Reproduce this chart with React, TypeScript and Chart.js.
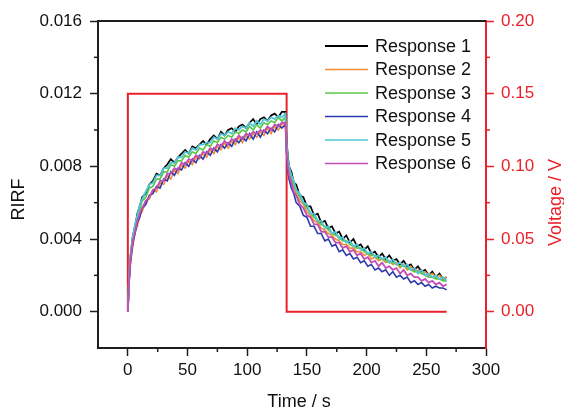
import React, { useEffect, useRef } from "react";
import { Chart, registerables } from "chart.js";

Chart.register(...registerables);

// Time axis (s) shared by all six responses
const TIME = [
  0, 1, 2, 3, 4, 6, 8, 10, 12, 15, 18, 21, 24, 27, 30, 33, 36, 39, 42, 45, 48, 51, 54, 57, 60,
  63, 66, 69, 72, 75, 78, 81, 84, 87, 90, 93, 96, 99, 102, 105, 108, 111, 114, 117, 120, 123,
  126, 129, 132,
  133, 134, 135, 137, 139, 141, 144, 147, 150, 153, 156, 159, 162, 165, 168, 171, 174, 177,
  180, 183, 186, 189, 192, 195, 198, 201, 204, 207, 210, 213, 216, 219, 222, 225, 228, 231,
  234, 237, 240, 243, 246, 249, 252, 255, 258, 261, 264, 267,
];

const RESPONSE_1 = [
  0, 0.0017, 0.0029, 0.0035, 0.0041, 0.0047, 0.0054, 0.0058, 0.0063, 0.0065, 0.0070, 0.0072,
  0.0076, 0.0075, 0.0079, 0.0081, 0.0084, 0.0082, 0.0085, 0.0087, 0.0089, 0.0087, 0.0091,
  0.0090, 0.0092, 0.0094, 0.0092, 0.0095, 0.0097, 0.0095, 0.0099, 0.0097, 0.0100, 0.0101,
  0.0099, 0.0102, 0.0103, 0.0101, 0.0104, 0.0106, 0.0103, 0.0106, 0.0107, 0.0105, 0.0108,
  0.0109, 0.0107, 0.0110, 0.0110,
  0.0094, 0.0086, 0.0080, 0.0077, 0.0071, 0.0070, 0.0064, 0.0063, 0.0058, 0.0058, 0.0053,
  0.0054, 0.0049, 0.0050, 0.0046, 0.0047, 0.0043, 0.0044, 0.0040, 0.0042, 0.0038, 0.0040,
  0.0036, 0.0037, 0.0034, 0.0036, 0.0032, 0.0033, 0.0030, 0.0032, 0.0029, 0.0031, 0.0028,
  0.0029, 0.0026, 0.0028, 0.0025, 0.0026, 0.0023, 0.0025, 0.0022, 0.0023, 0.0020, 0.0022,
  0.0019, 0.0021, 0.0018, 0.0019,
];

const RESPONSE_2 = [
  0, 0.0015, 0.0024, 0.0032, 0.0035, 0.0044, 0.0047, 0.0053, 0.0055, 0.0061, 0.0062, 0.0067,
  0.0066, 0.0071, 0.0070, 0.0075, 0.0073, 0.0078, 0.0076, 0.0081, 0.0079, 0.0083, 0.0081,
  0.0085, 0.0084, 0.0087, 0.0085, 0.0089, 0.0087, 0.0091, 0.0089, 0.0093, 0.0090, 0.0094,
  0.0092, 0.0096, 0.0093, 0.0097, 0.0095, 0.0098, 0.0096, 0.0099, 0.0097, 0.0101, 0.0098,
  0.0102, 0.0100, 0.0103, 0.0104,
  0.0089, 0.0081, 0.0077, 0.0072, 0.0069, 0.0065, 0.0061, 0.0059, 0.0055, 0.0053, 0.0050,
  0.0049, 0.0046, 0.0045, 0.0043, 0.0042, 0.0040, 0.0039, 0.0037, 0.0037, 0.0035, 0.0035,
  0.0033, 0.0033, 0.0031, 0.0032, 0.0029, 0.0030, 0.0028, 0.0029, 0.0027, 0.0028, 0.0026,
  0.0027, 0.0024, 0.0026, 0.0023, 0.0025, 0.0022, 0.0023, 0.0021, 0.0022, 0.0020, 0.0021,
  0.0019, 0.0020, 0.0018, 0.0019,
];

const RESPONSE_3 = [
  0, 0.0018, 0.0030, 0.0034, 0.0041, 0.0046, 0.0053, 0.0056, 0.0061, 0.0063, 0.0068, 0.0069,
  0.0073, 0.0073, 0.0077, 0.0077, 0.0081, 0.0080, 0.0083, 0.0083, 0.0086, 0.0085, 0.0088,
  0.0087, 0.0090, 0.0089, 0.0092, 0.0091, 0.0094, 0.0093, 0.0096, 0.0095, 0.0097, 0.0096,
  0.0099, 0.0098, 0.0100, 0.0099, 0.0102, 0.0100, 0.0103, 0.0101, 0.0104, 0.0103, 0.0105,
  0.0104, 0.0107, 0.0105, 0.0107,
  0.0091, 0.0083, 0.0079, 0.0074, 0.0070, 0.0067, 0.0063, 0.0060, 0.0057, 0.0054, 0.0052,
  0.0050, 0.0048, 0.0047, 0.0045, 0.0043, 0.0042, 0.0041, 0.0039, 0.0039, 0.0037, 0.0036,
  0.0035, 0.0035, 0.0033, 0.0032, 0.0031, 0.0031, 0.0029, 0.0029, 0.0028, 0.0027, 0.0027,
  0.0026, 0.0025, 0.0025, 0.0024, 0.0023, 0.0022, 0.0022, 0.0021, 0.0020, 0.0019, 0.0019,
  0.0018, 0.0018, 0.0017, 0.0017,
];

const RESPONSE_4 = [
  0, 0.0016, 0.0026, 0.0031, 0.0037, 0.0043, 0.0049, 0.0052, 0.0057, 0.0059, 0.0064, 0.0065,
  0.0069, 0.0068, 0.0073, 0.0072, 0.0077, 0.0075, 0.0079, 0.0078, 0.0082, 0.0080, 0.0084,
  0.0082, 0.0086, 0.0084, 0.0088, 0.0086, 0.0090, 0.0088, 0.0092, 0.0090, 0.0093, 0.0091,
  0.0095, 0.0093, 0.0096, 0.0094, 0.0098, 0.0095, 0.0099, 0.0096, 0.0100, 0.0098, 0.0101,
  0.0099, 0.0103, 0.0101, 0.0103,
  0.0087, 0.0077, 0.0073, 0.0068, 0.0065, 0.0060, 0.0058, 0.0053, 0.0052, 0.0047, 0.0047,
  0.0043, 0.0043, 0.0039, 0.0040, 0.0036, 0.0037, 0.0033, 0.0034, 0.0031, 0.0032, 0.0029,
  0.0030, 0.0027, 0.0028, 0.0025, 0.0026, 0.0023, 0.0024, 0.0022, 0.0023, 0.0020, 0.0022,
  0.0019, 0.0020, 0.0018, 0.0019, 0.0016, 0.0017, 0.0015, 0.0016, 0.0014, 0.0015, 0.0013,
  0.0014, 0.0013, 0.0013, 0.0012,
];

const RESPONSE_5 = [
  0, 0.0019, 0.0030, 0.0036, 0.0040, 0.0048, 0.0053, 0.0059, 0.0062, 0.0066, 0.0070, 0.0071,
  0.0075, 0.0075, 0.0079, 0.0079, 0.0082, 0.0082, 0.0085, 0.0085, 0.0088, 0.0087, 0.0090,
  0.0089, 0.0092, 0.0092, 0.0093, 0.0093, 0.0096, 0.0095, 0.0098, 0.0097, 0.0099, 0.0098,
  0.0101, 0.0100, 0.0102, 0.0101, 0.0104, 0.0102, 0.0105, 0.0103, 0.0106, 0.0105, 0.0107,
  0.0106, 0.0108, 0.0107, 0.0109,
  0.0092, 0.0084, 0.0080, 0.0075, 0.0072, 0.0067, 0.0065, 0.0060, 0.0059, 0.0054, 0.0054,
  0.0050, 0.0050, 0.0046, 0.0047, 0.0043, 0.0044, 0.0040, 0.0041, 0.0038, 0.0039, 0.0036,
  0.0037, 0.0034, 0.0035, 0.0032, 0.0033, 0.0030, 0.0031, 0.0029, 0.0030, 0.0027, 0.0029,
  0.0026, 0.0027, 0.0025, 0.0026, 0.0023, 0.0024, 0.0021, 0.0023, 0.0020, 0.0021, 0.0019,
  0.0020, 0.0018, 0.0019, 0.0017,
];

const RESPONSE_6 = [
  0, 0.0017, 0.0027, 0.0033, 0.0038, 0.0044, 0.0050, 0.0054, 0.0057, 0.0061, 0.0063, 0.0067,
  0.0068, 0.0072, 0.0072, 0.0076, 0.0076, 0.0079, 0.0078, 0.0082, 0.0081, 0.0084, 0.0083,
  0.0086, 0.0085, 0.0088, 0.0087, 0.0090, 0.0089, 0.0092, 0.0091, 0.0094, 0.0092, 0.0095,
  0.0094, 0.0097, 0.0095, 0.0098, 0.0097, 0.0099, 0.0098, 0.0100, 0.0099, 0.0102, 0.0100,
  0.0103, 0.0102, 0.0104, 0.0104,
  0.0088, 0.0080, 0.0075, 0.0071, 0.0066, 0.0064, 0.0059, 0.0057, 0.0053, 0.0052, 0.0048,
  0.0048, 0.0044, 0.0044, 0.0041, 0.0041, 0.0038, 0.0038, 0.0035, 0.0036, 0.0033, 0.0034,
  0.0031, 0.0032, 0.0029, 0.0030, 0.0027, 0.0028, 0.0025, 0.0027, 0.0024, 0.0025, 0.0023,
  0.0024, 0.0021, 0.0023, 0.0020, 0.0021, 0.0019, 0.0019, 0.0017, 0.0018, 0.0016, 0.0017,
  0.0015, 0.0016, 0.0014, 0.0015,
];

// Applied voltage step (right axis)
const VOLTAGE_TIME = [0, 0, 133, 133, 267];
const VOLTAGE = [0, 0.15, 0.15, 0, 0];

const SERIES_LABELS = ["Response 1", "Response 2", "Response 3", "Response 4", "Response 5", "Response 6"];
const SERIES_VALUES = [RESPONSE_1, RESPONSE_2, RESPONSE_3, RESPONSE_4, RESPONSE_5, RESPONSE_6];
const SERIES_COLORS = ["#000000", "#f58c35", "#5cc84a", "#2c3bab", "#50c6da", "#c24db6"];
const SERIES_WIDTHS = [1.7, 1.6, 1.7, 1.6, 1.8, 1.8];

const X_TITLE = "Time / s";
const Y_TITLE = "RIRF";
const Y2_TITLE = "Voltage / V";

const RED = "#e8212a";
const AXIS = "#1e1e1e";
const FONT = "'Liberation Sans', Arial, Helvetica, sans-serif";

const isMult = (v: number, s: number) => Math.abs(v / s - Math.round(v / s)) < 1e-6;

const decorPlugin = {
  id: "decor",
  afterDraw(chart: any) {
    const { ctx, chartArea: a, scales } = chart;
    ctx.save();
    // top frame line
    ctx.strokeStyle = AXIS;
    ctx.lineWidth = 2;
    ctx.beginPath();
    ctx.moveTo(a.left - 1, a.top);
    ctx.lineTo(a.right, a.top);
    ctx.stroke();

    // minor ticks
    const minorLen = 4;
    const drawMinor = (scale: any, step: number, color: string, side: string) => {
      ctx.strokeStyle = color;
      ctx.lineWidth = 1.5;
      for (const t of scale.ticks) {
        const v = t.value;
        if (isMult(v, step)) continue;
        if (Math.abs(v - scale.min) < 1e-9 || Math.abs(v - scale.max) < 1e-9) continue;
        const p = scale.getPixelForValue(v);
        ctx.beginPath();
        if (side === "bottom") {
          ctx.moveTo(p, a.bottom);
          ctx.lineTo(p, a.bottom + minorLen);
        } else if (side === "left") {
          ctx.moveTo(a.left, p);
          ctx.lineTo(a.left - minorLen, p);
        } else {
          ctx.moveTo(a.right, p);
          ctx.lineTo(a.right + minorLen, p);
        }
        ctx.stroke();
      }
    };
    drawMinor(scales.x, 50, AXIS, "bottom");
    drawMinor(scales.y, 0.004, AXIS, "left");
    drawMinor(scales.y2, 0.05, RED, "right");

    // axis titles
    ctx.font = `18px ${FONT}`;
    ctx.textAlign = "center";
    ctx.textBaseline = "middle";
    ctx.fillStyle = "#111";
    ctx.fillText(X_TITLE, (a.left + a.right) / 2 + 7, a.bottom + 54);

    const midY = (a.top + a.bottom) / 2;
    ctx.save();
    ctx.translate(a.left - 79, midY + 15);
    ctx.rotate(-Math.PI / 2);
    ctx.fillText(Y_TITLE, 0, 0);
    ctx.restore();

    ctx.save();
    ctx.fillStyle = RED;
    ctx.translate(a.right + 70, midY + 18);
    ctx.rotate(-Math.PI / 2);
    ctx.fillText(Y2_TITLE, 0, 0);
    ctx.restore();

    // legend
    ctx.textAlign = "left";
    SERIES_LABELS.forEach((label, i) => {
      const y = a.top + 25 + i * 23.5;
      ctx.strokeStyle = SERIES_COLORS[i];
      ctx.lineWidth = i === 0 ? 2 : 1.5;
      ctx.beginPath();
      ctx.moveTo(a.left + 227, y);
      ctx.lineTo(a.left + 270, y);
      ctx.stroke();
      ctx.fillStyle = "#111";
      ctx.fillText(label, a.left + 277, y + 1);
    });
    ctx.restore();
  },
};

export default function App() {
  const ref = useRef<HTMLCanvasElement>(null);

  useEffect(() => {
    const canvas = ref.current;
    if (!canvas) return;

    const datasets: any[] = SERIES_VALUES.map((vals, i) => ({
      label: SERIES_LABELS[i],
      data: TIME.map((t, k) => ({ x: t, y: vals[k] })),
      borderColor: SERIES_COLORS[i],
      backgroundColor: SERIES_COLORS[i],
      borderWidth: SERIES_WIDTHS[i],
      pointRadius: 0,
      tension: 0,
      yAxisID: "y",
      order: 6 - i,
    }));
    datasets.push({
      label: "Voltage",
      data: VOLTAGE_TIME.map((t, k) => ({ x: t, y: VOLTAGE[k] })),
      borderColor: RED,
      backgroundColor: RED,
      borderWidth: 2,
      pointRadius: 0,
      tension: 0,
      yAxisID: "y2",
      order: 20,
    });

    const tickFont = { family: FONT, size: 17 };

    const chart = new Chart(canvas, {
      type: "line",
      data: { datasets },
      plugins: [decorPlugin],
      options: {
        animation: false,
        responsive: false,
        events: [],
        layout: { padding: { top: 21, left: 0, right: 0, bottom: 0 } },
        plugins: {
          legend: { display: false },
          tooltip: { enabled: false },
          title: { display: false },
        },
        scales: {
          x: {
            type: "linear",
            position: "bottom",
            min: -25,
            max: 300,
            afterFit: (s: any) => {
              s.height = 63;
            },
            border: { display: true, color: AXIS, width: 2 },
            grid: {
              drawOnChartArea: false,
              drawTicks: true,
              tickLength: 8,
              tickWidth: 1.5,
              tickColor: (c: any) => (c.tick && isMult(c.tick.value, 50) ? AXIS : "rgba(0,0,0,0)"),
            },
            ticks: {
              stepSize: 25,
              autoSkip: false,
              maxRotation: 0,
              padding: 4,
              color: "#111",
              font: tickFont,
              callback: (v: any) => (isMult(Number(v), 50) ? String(Math.round(Number(v))) : ""),
            },
          },
          y: {
            type: "linear",
            position: "left",
            min: -0.002,
            max: 0.016,
            afterFit: (s: any) => {
              s.width = 98;
            },
            border: { display: true, color: AXIS, width: 2 },
            grid: {
              drawOnChartArea: false,
              drawTicks: true,
              tickLength: 8,
              tickWidth: 1.5,
              tickColor: (c: any) => (c.tick && isMult(c.tick.value, 0.004) ? AXIS : "rgba(0,0,0,0)"),
            },
            ticks: {
              stepSize: 0.002,
              autoSkip: false,
              padding: 8,
              color: "#111",
              font: tickFont,
              callback: (v: any) => {
                const n = Number(v);
                if (!isMult(n, 0.004)) return "";
                return Math.abs(n) < 1e-9 ? "0.000" : n.toFixed(3);
              },
            },
          },
          y2: {
            type: "linear",
            position: "right",
            min: -0.025,
            max: 0.2,
            afterFit: (s: any) => {
              s.width = 78;
            },
            border: { display: true, color: RED, width: 2 },
            grid: {
              drawOnChartArea: false,
              drawTicks: true,
              tickLength: 8,
              tickWidth: 1.5,
              tickColor: (c: any) => (c.tick && isMult(c.tick.value, 0.05) ? RED : "rgba(0,0,0,0)"),
            },
            ticks: {
              stepSize: 0.025,
              autoSkip: false,
              padding: 7,
              color: RED,
              font: tickFont,
              callback: (v: any) => {
                const n = Number(v);
                if (!isMult(n, 0.05)) return "";
                return Math.abs(n) < 1e-9 ? "0.00" : n.toFixed(2);
              },
            },
          },
        },
      } as any,
    });

    return () => chart.destroy();
  }, []);

  return (
    <div style={{ position: "absolute", left: 0, top: 0, width: 564, height: 411, background: "#fff" }}>
      <canvas ref={ref} width={564} height={411} style={{ display: "block", width: 564, height: 411 }} />
    </div>
  );
}
